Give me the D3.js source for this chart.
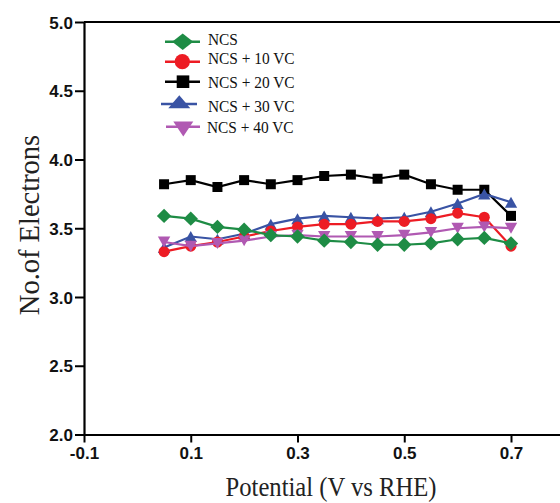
<!DOCTYPE html>
<html>
<head>
<meta charset="utf-8">
<script src="https://cdn.jsdelivr.net/npm/d3@7"></script>
<style>
  html, body { margin: 0; padding: 0; background: #fff; }
  svg { display: block; }
</style>
</head>
<body>
<svg id="chart" width="560" height="503"></svg>
<script>
// Potential (V vs RHE) at which the electron transfer number was evaluated
const potential = [0.05, 0.10, 0.15, 0.20, 0.25, 0.30, 0.35, 0.40, 0.45, 0.50, 0.55, 0.60, 0.65, 0.70];

// Number of electrons transferred for each catalyst
const ncs   = [3.59, 3.57, 3.51, 3.49, 3.45, 3.44, 3.41, 3.40, 3.38, 3.38, 3.39, 3.42, 3.43, 3.39];
const ncs10 = [3.33, 3.37, 3.40, 3.44, 3.48, 3.51, 3.53, 3.53, 3.55, 3.55, 3.57, 3.61, 3.58, 3.37];
const ncs20 = [3.82, 3.85, 3.80, 3.85, 3.82, 3.85, 3.88, 3.89, 3.86, 3.89, 3.82, 3.78, 3.78, 3.59];
const ncs30 = [3.36, 3.44, 3.42, 3.46, 3.53, 3.57, 3.59, 3.58, 3.57, 3.58, 3.62, 3.68, 3.75, 3.69];
const ncs40 = [3.40, 3.37, 3.39, 3.41, 3.44, 3.45, 3.44, 3.44, 3.44, 3.45, 3.47, 3.50, 3.51, 3.50];

const seriesNames = ["NCS", "NCS + 10 VC", "NCS + 20 VC", "NCS + 30 VC", "NCS + 40 VC"];

const xTicks = [-0.1, 0.1, 0.3, 0.5, 0.7];
const yTicks = [2.0, 2.5, 3.0, 3.5, 4.0, 4.5, 5.0];

const svg = d3.select("#chart");

const x = d3.scaleLinear().domain([-0.1, 0.9]).range([84, 84 + 533.75]);
const y = d3.scaleLinear().domain([2, 5]).range([434.5, 22]);

// Marker shapes, drawn centred on the point
const shapes = {
  diamond: (w, h) => `M0,${-h}L${w},0L0,${h}L${-w},0Z`,
  square:  (w)    => `M${-w},${-w}H${w}V${w}H${-w}Z`,
  circle:  (r)    => `M${r},0A${r},${r} 0 1,1 ${-r},0A${r},${r} 0 1,1 ${r},0Z`,
  up:      (w, h) => `M0,${-h}L${w},${h}L${-w},${h}Z`,
  down:    (w, h) => `M0,${h}L${w},${-h}L${-w},${-h}Z`
};

const series = [
  { name: seriesNames[2], values: ncs20, color: "#000000", marker: s => shapes.square(5 * s) },
  { name: seriesNames[3], values: ncs30, color: "#3953a4", marker: s => shapes.up(6.2 * s, 5.5 * s) },
  { name: seriesNames[1], values: ncs10, color: "#ed1c24", marker: s => shapes.circle(5.5 * s) },
  { name: seriesNames[4], values: ncs40, color: "#b059b2", marker: s => shapes.down(6.2 * s, 5.5 * s) },
  { name: seriesNames[0], values: ncs,   color: "#1e8c45", marker: s => shapes.diamond(7.2 * s, 7.2 * s) }
];

// Axes
const xAxis = d3.axisBottom(x).tickValues(xTicks).tickFormat(d3.format(".1f")).tickSize(8).tickSizeOuter(0);
const yAxis = d3.axisLeft(y).tickValues(yTicks).tickFormat(d3.format(".1f")).tickSize(9).tickSizeOuter(0);

const gx = svg.append("g").attr("transform", `translate(0,${y(2)})`).call(xAxis);
const gy = svg.append("g").attr("transform", `translate(${x(-0.1)},0)`).call(yAxis);

[gx, gy].forEach(g => {
  g.select(".domain").attr("stroke", "#000").attr("stroke-width", 2.2);
  g.selectAll(".tick line").attr("stroke", "#000").attr("stroke-width", 2);
  g.selectAll(".tick text")
    .attr("fill", "#111")
    .style("font-family", "'Liberation Sans', Arial, sans-serif")
    .style("font-weight", "bold")
    .style("font-size", "17px");
});
gx.selectAll(".tick text").attr("dy", "0.9em").attr("y", 9).text(d => d3.format(".1f")(d).replace("\u2212", "-"));
gy.selectAll(".tick text").attr("x", -11).attr("dy", "0.36em");

// Top frame line
svg.append("line")
  .attr("x1", x(-0.1)).attr("x2", x(0.9))
  .attr("y1", y(5)).attr("y2", y(5))
  .attr("stroke", "#000").attr("stroke-width", 2.2);

// Axis titles
const titleFont = "'Liberation Serif', 'Times New Roman', serif";
svg.append("text")
  .attr("transform", "translate(331,496) scale(0.88,1)")
  .attr("text-anchor", "middle")
  .style("font-family", titleFont)
  .style("font-size", "28px")
  .attr("fill", "#222")
  .text("Potential (V vs RHE)");

svg.append("text")
  .attr("transform", "translate(39,225) rotate(-90) scale(0.95,1)")
  .attr("text-anchor", "middle")
  .style("font-family", titleFont)
  .style("font-size", "30px")
  .attr("fill", "#222")
  .text("No.of Electrons");

// Lines and markers
const line = d3.line().x((d, i) => x(potential[i])).y(d => y(d));

series.forEach(s => {
  const g = svg.append("g");
  g.append("path")
    .attr("d", line(s.values))
    .attr("fill", "none")
    .attr("stroke", s.color)
    .attr("stroke-width", 2.2);
  g.selectAll("path.pt")
    .data(s.values)
    .join("path")
    .attr("class", "pt")
    .attr("transform", (d, i) => `translate(${x(potential[i])},${y(d)})`)
    .attr("d", s.marker(1))
    .attr("fill", s.color);
});

// Legend
const legendRows = [
  { idx: 0, color: "#1e8c45", lineX: [165, 200], mx: 182.7, ly: 41.7, my: 41.7, ty: 44.5, tx: 208, marker: shapes.diamond(10.5, 8.3) },
  { idx: 1, color: "#ed1c24", lineX: [165, 200], mx: 182.3, ly: 61.7, my: 61.7, ty: 63.7, tx: 208, marker: shapes.circle(7.6) },
  { idx: 2, color: "#000000", lineX: [165, 200], mx: 183,   ly: 81.7, my: 81.7, ty: 88.3, tx: 208, marker: shapes.square(6.3) },
  { idx: 3, color: "#3953a4", lineX: [161, 197], mx: 179.3, ly: 104,  my: 101.7, ty: 111.6, tx: 208, marker: shapes.up(11, 6.5) },
  { idx: 4, color: "#b059b2", lineX: [166, 200], mx: 183.3, ly: 126.7, my: 129, ty: 133.3, tx: 207, marker: shapes.down(10, 7.5) }
];

const lg = svg.append("g");
legendRows.forEach(r => {
  lg.append("line")
    .attr("x1", r.lineX[0]).attr("x2", r.lineX[1])
    .attr("y1", r.ly).attr("y2", r.ly)
    .attr("stroke", r.color).attr("stroke-width", 2.4);
  lg.append("path")
    .attr("transform", `translate(${r.mx},${r.my})`)
    .attr("d", r.marker)
    .attr("fill", r.color);
  lg.append("text")
    .attr("transform", `translate(${r.tx},${r.ty}) scale(0.88,1)`)
    .style("font-family", titleFont)
    .style("font-size", "17.5px")
    .attr("fill", "#111")
    .text(seriesNames[r.idx]);
});
</script>
</body>
</html>
